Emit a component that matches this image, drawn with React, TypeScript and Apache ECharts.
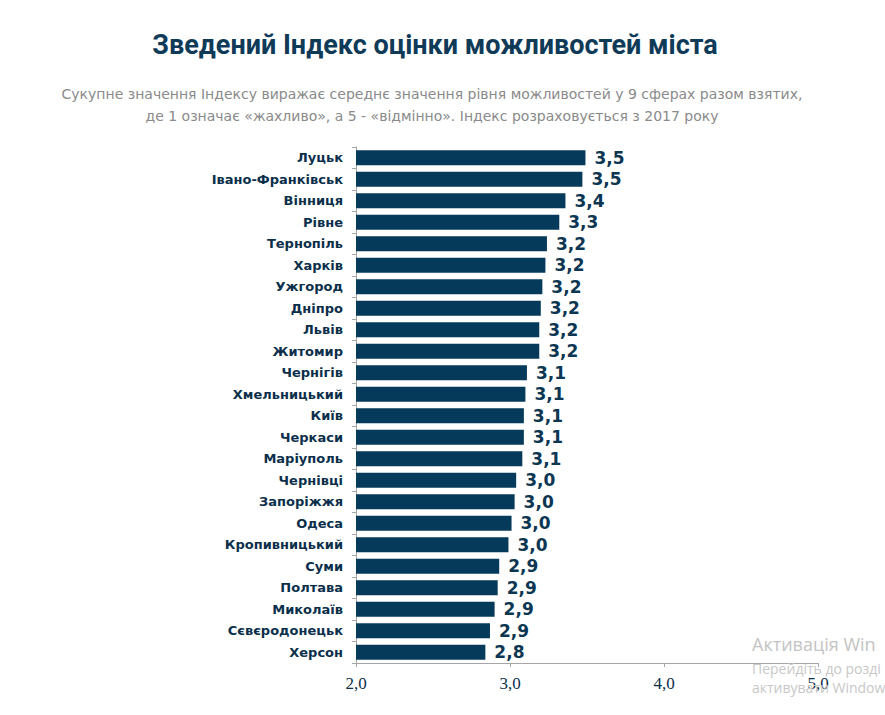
import React, { useEffect, useRef } from "react";
import * as echarts from "echarts";

const cities = [
  "Луцьк", "Івано-Франківськ", "Вінниця", "Рівне", "Тернопіль", "Харків",
  "Ужгород", "Дніпро", "Львів", "Житомир", "Чернігів", "Хмельницький",
  "Київ", "Черкаси", "Маріуполь", "Чернівці", "Запоріжжя", "Одеса",
  "Кропивницький", "Суми", "Полтава", "Миколаїв", "Сєвєродонецьк", "Херсон",
];
const values = [
  3.49, 3.47, 3.36, 3.32, 3.24, 3.23,
  3.21, 3.2, 3.19, 3.19, 3.11, 3.1,
  3.09, 3.09, 3.08, 3.04, 3.03, 3.01,
  2.99, 2.93, 2.92, 2.9, 2.87, 2.84,
];
const xTicks = [2, 3, 4, 5];

const titleText = "Зведений Індекс оцінки можливостей міста";
const subtitleLines = [
  "Сукупне значення Індексу виражає середнє значення рівня можливостей у 9 сферах разом взятих,",
  "де 1 означає «жахливо», а 5 - «відмінно». Індекс розраховується з 2017 року",
];
const watermarkLines = ["Активація Win", "Перейдіть до розді", "активувати Window"];

const fmt = (v: number) => v.toFixed(1).replace(".", ",");

export default function App() {
  const ref = useRef<HTMLDivElement>(null);
  useEffect(() => {
    if (!ref.current) return;
    const chart = echarts.init(ref.current, undefined, { renderer: "svg" });
    chart.setOption({
      animation: false,
      backgroundColor: "#ffffff",
      grid: { left: 356, right: 67, top: 147, bottom: 52, containLabel: false },
      xAxis: {
        type: "value",
        min: xTicks[0],
        max: xTicks[xTicks.length - 1],
        interval: 1,
        splitLine: { show: false },
        axisLine: { show: true, lineStyle: { color: "#a6a6a6", width: 1 } },
        axisTick: { show: true, length: 4, lineStyle: { color: "#a6a6a6" } },
        axisLabel: {
          margin: 12,
          color: "#0d2f4a",
          fontFamily: "Liberation Serif",
          fontSize: 17,
          formatter: (v: number) => fmt(v),
        },
      },
      yAxis: {
        type: "category",
        inverse: true,
        data: cities,
        axisLine: { show: true, lineStyle: { color: "#a6a6a6", width: 1 } },
        axisTick: { show: true, length: 4, lineStyle: { color: "#a6a6a6" } },
        axisLabel: {
          margin: 13,
          color: "#0b2f4b",
          fontFamily: "DejaVu Sans",
          fontWeight: "bold",
          fontSize: 13,
        },
      },
      series: [
        {
          type: "bar",
          data: values,
          barWidth: 15,
          itemStyle: { color: "#053a5b" },
          label: {
            show: true,
            position: "right",
            distance: 9,
            color: "#0c3652",
            fontFamily: "DejaVu Sans",
            fontWeight: "bold",
            fontSize: 17,
            formatter: (p: any) => fmt(p.value),
          },
        },
      ],
      graphic: [
        {
          type: "text",
          x: 435,
          y: 45,
          style: {
            text: titleText,
            font: "bold 27px Roboto",
            fill: "#0f3b58",
            textAlign: "center",
            textVerticalAlign: "middle",
          },
        },
        {
          type: "text",
          x: 432,
          y: 93.5,
          style: {
            text: subtitleLines[0],
            font: "14px 'DejaVu Sans'",
            fill: "#8a8a8a",
            textAlign: "center",
            textVerticalAlign: "middle",
          },
        },
        {
          type: "text",
          x: 432,
          y: 115.5,
          style: {
            text: subtitleLines[1],
            font: "14px 'DejaVu Sans'",
            fill: "#8a8a8a",
            textAlign: "center",
            textVerticalAlign: "middle",
          },
        },
        {
          type: "text",
          x: 752,
          y: 644,
          z: 100,
          style: {
            text: watermarkLines[0],
            font: "18px 'Open Sans'",
            fill: "#c4c4c4",
            textVerticalAlign: "middle",
          },
        },
        {
          type: "text",
          x: 752,
          y: 668,
          z: 100,
          style: {
            text: watermarkLines[1],
            font: "14px 'Open Sans'",
            fill: "#c8c8c8",
            textVerticalAlign: "middle",
          },
        },
        {
          type: "text",
          x: 752,
          y: 687,
          z: 100,
          style: {
            text: watermarkLines[2],
            font: "14px 'Open Sans'",
            fill: "#c8c8c8",
            textVerticalAlign: "middle",
          },
        },
      ],
    });
    return () => chart.dispose();
  }, []);
  return <div ref={ref} style={{ width: 885, height: 715, position: "absolute", left: 0, top: 0 }} />;
}
